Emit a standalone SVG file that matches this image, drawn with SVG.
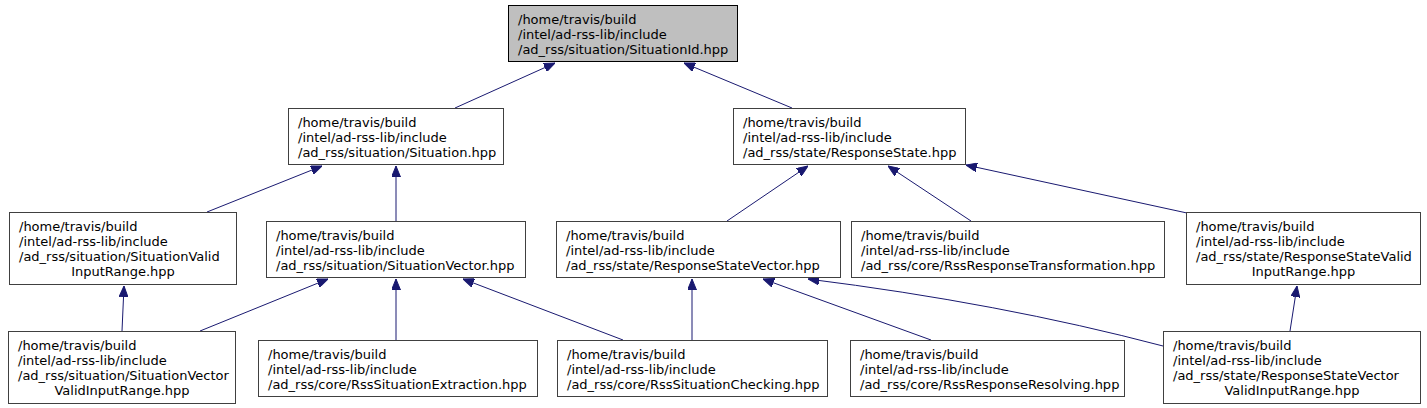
<svg xmlns="http://www.w3.org/2000/svg" width="1427" height="408" viewBox="0 0 1427 408">
<style>
.box{fill:#ffffff;stroke:#404040;stroke-width:1}
.root{fill:#bfbfbf;stroke:#000000;stroke-width:1}
text{font-family:"DejaVu Sans","Liberation Sans",sans-serif;font-size:13px;fill:#000000}
.c{text-anchor:middle}
.e{fill:none;stroke:#191970;stroke-width:1}
</style>
<defs>
<marker id="ah" viewBox="0 0 11 9" refX="11" refY="4.5" markerWidth="11" markerHeight="9" markerUnits="userSpaceOnUse" orient="auto">
<path d="M0,0 L11,4.5 L0,9 z" fill="#191970" stroke="#191970" stroke-width="1"/>
</marker>
</defs>
<rect width="1427" height="408" fill="#ffffff"/>
<g id="edges">
<path class="e" marker-end="url(#ah)" d="M455,108 L555,63"/>
<path class="e" marker-end="url(#ah)" d="M792,108 L684,63"/>
<path class="e" marker-end="url(#ah)" d="M207,212 L322,166"/>
<path class="e" marker-end="url(#ah)" d="M396,221 L396,166"/>
<path class="e" marker-end="url(#ah)" d="M727,221 L808,166"/>
<path class="e" marker-end="url(#ah)" d="M971,221 L888,166"/>
<path class="e" marker-end="url(#ah)" d="M1187,213 L966,165"/>
<path class="e" marker-end="url(#ah)" d="M122,331 L124,286"/>
<path class="e" marker-end="url(#ah)" d="M200,331 L328,279"/>
<path class="e" marker-end="url(#ah)" d="M396,340 L396,279"/>
<path class="e" marker-end="url(#ah)" d="M623,340 L463,279"/>
<path class="e" marker-end="url(#ah)" d="M692,340 L692,279"/>
<path class="e" marker-end="url(#ah)" d="M931,340 L763,279"/>
<path class="e" marker-end="url(#ah)" d="M1163,346 Q1000,303 808,279"/>
<path class="e" marker-end="url(#ah)" d="M1290,331 L1297,286"/>
</g>
<g id="n0">
<rect class="root" x="508.5" y="5.5" width="229" height="56"/>
<text x="518" y="23.5">/home/travis/build</text>
<text x="518" y="38.5">/intel/ad-rss-lib/include</text>
<text x="518" y="53.5">/ad_rss/situation/SituationId.hpp</text>
</g>
<g id="n1">
<rect class="box" x="288.5" y="108.5" width="215" height="56"/>
<text x="298" y="126.5">/home/travis/build</text>
<text x="298" y="141.5">/intel/ad-rss-lib/include</text>
<text x="298" y="156.5">/ad_rss/situation/Situation.hpp</text>
</g>
<g id="n2">
<rect class="box" x="733.5" y="108.5" width="232" height="56"/>
<text x="743" y="126.5">/home/travis/build</text>
<text x="743" y="141.5">/intel/ad-rss-lib/include</text>
<text x="743" y="156.5">/ad_rss/state/ResponseState.hpp</text>
</g>
<g id="n3">
<rect class="box" x="9.5" y="212.5" width="227" height="72"/>
<text x="19" y="230.5">/home/travis/build</text>
<text x="19" y="245.5">/intel/ad-rss-lib/include</text>
<text x="19" y="260.5">/ad_rss/situation/SituationValid</text>
<text class="c" x="123" y="275.5">InputRange.hpp</text>
</g>
<g id="n4">
<rect class="box" x="266.5" y="221.5" width="259" height="56"/>
<text x="276" y="239.5">/home/travis/build</text>
<text x="276" y="254.5">/intel/ad-rss-lib/include</text>
<text x="276" y="269.5">/ad_rss/situation/SituationVector.hpp</text>
</g>
<g id="n5">
<rect class="box" x="556.5" y="221.5" width="284" height="56"/>
<text x="566" y="239.5">/home/travis/build</text>
<text x="566" y="254.5">/intel/ad-rss-lib/include</text>
<text x="566" y="269.5">/ad_rss/state/ResponseStateVector.hpp</text>
</g>
<g id="n6">
<rect class="box" x="851.5" y="221.5" width="313" height="56"/>
<text x="861" y="239.5">/home/travis/build</text>
<text x="861" y="254.5">/intel/ad-rss-lib/include</text>
<text x="861" y="269.5">/ad_rss/core/RssResponseTransformation.hpp</text>
</g>
<g id="n7">
<rect class="box" x="1186.5" y="212.5" width="234" height="72"/>
<text x="1196" y="230.5">/home/travis/build</text>
<text x="1196" y="245.5">/intel/ad-rss-lib/include</text>
<text x="1196" y="260.5">/ad_rss/state/ResponseStateValid</text>
<text class="c" x="1303.5" y="275.5">InputRange.hpp</text>
</g>
<g id="n8">
<rect class="box" x="8.5" y="331.5" width="227" height="72"/>
<text x="18" y="349.5">/home/travis/build</text>
<text x="18" y="364.5">/intel/ad-rss-lib/include</text>
<text x="18" y="379.5">/ad_rss/situation/SituationVector</text>
<text class="c" x="122" y="394.5">ValidInputRange.hpp</text>
</g>
<g id="n9">
<rect class="box" x="258.5" y="340.5" width="279" height="56"/>
<text x="268" y="358.5">/home/travis/build</text>
<text x="268" y="373.5">/intel/ad-rss-lib/include</text>
<text x="268" y="388.5">/ad_rss/core/RssSituationExtraction.hpp</text>
</g>
<g id="n10">
<rect class="box" x="557.5" y="340.5" width="270" height="56"/>
<text x="567" y="358.5">/home/travis/build</text>
<text x="567" y="373.5">/intel/ad-rss-lib/include</text>
<text x="567" y="388.5">/ad_rss/core/RssSituationChecking.hpp</text>
</g>
<g id="n11">
<rect class="box" x="850.5" y="340.5" width="274" height="56"/>
<text x="860" y="358.5">/home/travis/build</text>
<text x="860" y="373.5">/intel/ad-rss-lib/include</text>
<text x="860" y="388.5">/ad_rss/core/RssResponseResolving.hpp</text>
</g>
<g id="n12">
<rect class="box" x="1163.5" y="331.5" width="257" height="72"/>
<text x="1173" y="349.5">/home/travis/build</text>
<text x="1173" y="364.5">/intel/ad-rss-lib/include</text>
<text x="1173" y="379.5">/ad_rss/state/ResponseStateVector</text>
<text class="c" x="1292" y="394.5">ValidInputRange.hpp</text>
</g>
</svg>
